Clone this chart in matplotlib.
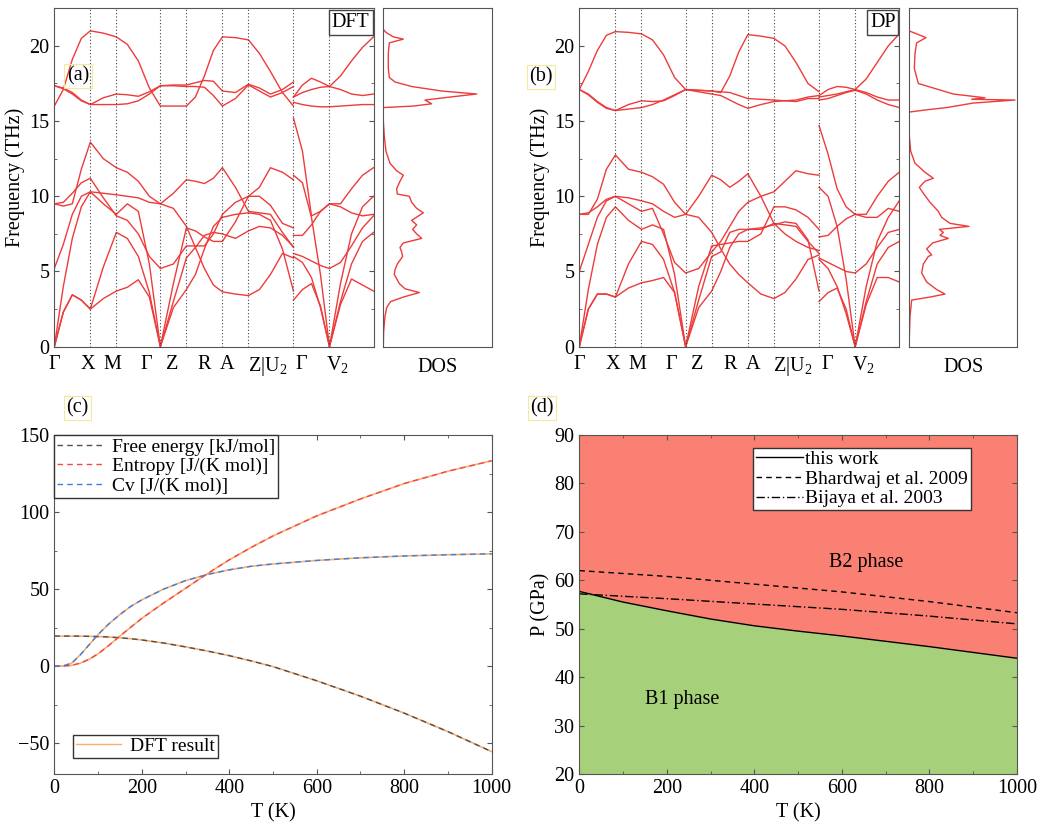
import numpy as np
import matplotlib
matplotlib.use('Agg')
import matplotlib.pyplot as plt
from matplotlib.ticker import MultipleLocator
from matplotlib.lines import Line2D

plt.rcParams['font.family'] = ['Liberation Serif', 'DejaVu Serif']
plt.rcParams['mathtext.fontset'] = 'custom'
plt.rcParams['mathtext.rm'] = 'Liberation Serif'
plt.rcParams['font.size'] = 14.5
plt.rcParams['axes.edgecolor'] = '#555555'
plt.rcParams['xtick.color'] = '#555555'
plt.rcParams['ytick.color'] = '#555555'
plt.rcParams['xtick.labelcolor'] = 'black'
plt.rcParams['ytick.labelcolor'] = 'black'

BAND = '#EE3B3B'

# ---- k-path (path length units) ----
k_seg1 = [0, 9, 18, 27, 36, 49, 62, 73, 84, 95, 106, 119, 132, 141, 150, 159, 168, 181, 194, 205, 216, 228, 239]
k_seg2 = [239, 248, 257, 266, 275, 286, 297, 308, 319]
k_special = [36, 62, 106, 132, 168, 194, 239, 275]
k_labels = ['Γ', 'X', 'M', 'Γ', 'Z', 'R', 'A', r'Z|U$_2$', 'Γ', r'V$_2$']
k_label_pos = [0, 33, 58, 92, 118, 150, 173, 213, 247, 283]

# ---- DFT bands (THz) ----
dft_seg1 = [
    [16.0, 17.1, 19.1, 20.5, 21.0, 20.85, 20.6, 20.1, 19.0, 17.2, 16.0, 16.0, 16.0, 16.6, 18.0, 19.7, 20.6, 20.55, 20.4, 19.5, 18.3, 16.9, 16.0],
    [17.35, 17.2, 16.9, 16.4, 16.1, 16.55, 16.8, 16.75, 16.65, 16.95, 17.35, 17.4, 17.4, 17.55, 17.7, 17.65, 17.0, 16.9, 17.45, 17.2, 16.8, 17.1, 17.6],
    [17.35, 17.15, 16.8, 16.35, 16.1, 16.1, 16.1, 16.15, 16.35, 16.8, 17.35, 17.35, 17.3, 17.3, 17.25, 16.7, 16.0, 16.5, 17.4, 17.0, 16.6, 16.9, 17.3],
    [0, 2.3, 3.45, 3.1, 2.5, 3.2, 3.7, 3.95, 4.45, 3.3, 0, 2.6, 3.8, 4.8, 6.5, 8.0, 8.6, 8.8, 8.9, 8.8, 8.4, 6.5, 3.7],
    [0, 2.3, 3.45, 3.1, 2.5, 5.3, 7.6, 7.2, 6.0, 3.6, 0, 3.0, 5.9, 6.6, 7.4, 7.6, 7.5, 7.2, 7.7, 8.0, 7.9, 7.4, 6.65],
    [0, 4.0, 7.2, 9.3, 10.3, 9.5, 8.8, 9.5, 9.0, 5.5, 0, 4.2, 7.9, 7.7, 7.3, 7.0, 7.0, 8.3, 10.0, 10.0, 9.4, 8.2, 7.9],
    [5.2, 6.8, 8.8, 10.0, 10.3, 10.2, 10.1, 10.0, 9.9, 9.6, 9.5, 10.2, 11.1, 11.0, 10.85, 11.2, 11.9, 10.6, 9.0, 8.9, 8.8, 7.6, 6.6],
    [9.5, 9.6, 10.2, 10.9, 11.2, 9.9, 8.7, 8.4, 7.5, 6.0, 5.2, 5.5, 6.7, 6.7, 6.7, 7.5, 8.8, 9.6, 10.0, 10.6, 11.9, 11.6, 11.1],
    [9.5, 9.35, 9.5, 11.8, 13.6, 12.5, 11.9, 11.6, 11.0, 10.0, 9.5, 9.2, 8.0, 6.6, 5.2, 4.1, 3.65, 3.5, 3.4, 3.8, 4.8, 6.2, 5.9],
]
dft_seg2 = [
    [16.6, 17.4, 17.85, 17.6, 17.3, 18.0, 19.0, 19.9, 20.6],
    [16.6, 16.9, 17.1, 17.25, 17.3, 17.1, 16.8, 16.7, 16.8],
    [16.25, 16.1, 16.0, 15.95, 15.95, 16.0, 16.05, 16.1, 16.1],
    [15.2, 13.0, 8.7, 9.0, 9.5, 9.5, 10.5, 11.4, 11.9],
    [11.4, 10.9, 8.6, 4.8, 0, 4.2, 7.5, 9.3, 10.0],
    [7.4, 7.4, 8.1, 9.0, 9.5, 9.3, 8.9, 8.7, 8.8],
    [6.2, 6.0, 5.7, 5.4, 5.2, 5.6, 6.7, 7.9, 8.7],
    [6.0, 5.6, 4.6, 2.6, 0, 3.0, 5.5, 7.0, 7.6],
    [3.1, 3.8, 4.2, 2.7, 0, 2.8, 4.5, 4.1, 3.7],
]

# ---- DP bands (THz) ----
dp_seg1 = [
    [17.1, 18.3, 19.7, 20.7, 20.95, 20.9, 20.8, 20.4, 19.4, 17.9, 17.1, 17.05, 17.0, 16.9, 18.0, 19.6, 20.75, 20.65, 20.5, 20.0, 18.9, 17.5, 16.95],
    [17.1, 16.8, 16.3, 15.9, 15.7, 16.1, 16.35, 16.3, 16.35, 16.7, 17.1, 17.05, 17.0, 16.95, 16.9, 16.7, 16.5, 16.45, 16.4, 16.35, 16.4, 16.6, 16.7],
    [17.1, 16.75, 16.25, 15.85, 15.7, 15.8, 15.9, 16.1, 16.4, 16.75, 17.1, 16.95, 16.8, 16.7, 16.4, 16.1, 15.85, 16.1, 16.3, 16.35, 16.3, 16.5, 16.5],
    [0, 2.5, 3.5, 3.5, 3.3, 3.9, 4.25, 4.4, 4.6, 3.6, 0, 2.6, 3.7, 5.0, 6.6, 7.5, 7.8, 7.9, 8.1, 8.3, 8.2, 7.1, 3.7],
    [0, 2.5, 3.5, 3.5, 3.3, 5.5, 7.0, 6.8, 5.8, 3.6, 0, 3.1, 6.0, 6.3, 7.6, 7.8, 7.8, 7.8, 8.2, 8.1, 8.0, 7.0, 6.2],
    [0, 3.8, 6.8, 8.6, 9.3, 8.4, 7.8, 8.1, 7.8, 4.8, 0, 4.0, 6.7, 6.8, 6.9, 7.0, 7.0, 7.5, 9.3, 9.3, 9.1, 8.6, 7.8],
    [5.0, 6.8, 8.6, 9.7, 10.0, 9.9, 9.7, 9.5, 9.0, 8.6, 8.8, 10.0, 11.4, 11.1, 10.6, 11.0, 11.5, 10.0, 8.2, 7.5, 7.0, 6.6, 6.4],
    [8.8, 8.9, 9.3, 9.8, 10.0, 9.5, 9.0, 9.2, 7.5, 5.6, 4.9, 5.2, 6.3, 7.0, 8.0, 9.0, 9.6, 10.0, 10.3, 11.0, 11.7, 11.5, 11.4],
    [8.8, 8.8, 9.8, 11.8, 12.75, 11.8, 11.6, 11.3, 10.8, 9.6, 8.8, 8.6, 7.6, 6.5, 5.5, 4.8, 4.25, 3.5, 3.2, 3.6, 4.5, 5.8, 6.1],
]
dp_seg2 = [
    [16.7, 17.1, 17.3, 17.25, 17.1, 17.8, 18.9, 20.0, 20.8],
    [16.6, 16.7, 16.8, 16.95, 17.1, 16.9, 16.6, 16.4, 16.4],
    [16.4, 16.5, 16.7, 16.9, 17.05, 16.8, 16.4, 16.1, 15.9],
    [14.7, 12.8, 10.5, 9.3, 8.8, 8.8, 10.0, 11.0, 11.6],
    [10.6, 10.0, 8.0, 4.5, 0, 4.0, 7.0, 8.6, 9.7],
    [7.3, 7.4, 8.0, 8.5, 8.8, 8.6, 8.6, 9.2, 9.0],
    [5.9, 5.6, 5.3, 5.0, 4.9, 5.5, 6.6, 7.6, 7.8],
    [5.8, 5.2, 4.0, 2.2, 0, 3.0, 5.5, 6.6, 7.0],
    [3.0, 3.6, 3.9, 2.5, 0, 2.8, 4.6, 4.6, 4.3],
]

# ---- DOS (arbitrary units) ----
dos_dft_freq = [0, 1.0, 2.0, 2.6, 3.0, 3.3, 3.6, 3.85, 4.2, 4.8, 5.1, 5.5, 6.0, 6.3, 6.6, 6.9, 7.2, 7.5, 7.8, 8.1,
                8.4, 8.9, 9.2, 9.6, 10.0, 10.15, 10.5, 11.0, 11.4, 11.7, 12.2, 13.0, 14.0, 15.0, 15.9, 16.0, 16.15,
                16.4, 16.6, 16.8, 17.0, 17.3, 17.6, 17.9, 18.5, 19.5, 20.2, 20.45, 20.6, 20.9, 21.1, 22.5]
dos_dft = [0, 1, 5, 10, 22, 60, 108, 65, 48, 33, 35, 42, 58, 55, 50, 60, 115, 100, 88, 100,
           85, 120, 100, 85, 78, 42, 40, 50, 60, 40, 20, 8, 3, 0, 0, 90, 145,
           125, 200, 280, 175, 85, 35, 18, 15, 15, 18, 60, 30, 8, 0, 0]
dos_dp_freq = [0, 2.0, 3.1, 3.3, 3.5, 3.8, 4.3, 4.9, 5.5, 6.0, 6.1, 6.5, 6.9, 7.2, 7.4, 7.6, 7.8, 8.0, 8.2, 8.6,
               9.0, 9.6, 10.2, 10.6, 11.0, 11.2, 11.6, 12.2, 13.0, 14.0, 15.0, 15.6, 15.75, 15.9, 16.2, 16.4,
               16.45, 16.55, 16.8, 17.1, 17.5, 18.5, 19.5, 20.2, 20.55, 20.8, 21.0, 22.5]
dos_dp = [0, 3, 8, 63, 108, 83, 53, 38, 43, 58, 68, 53, 71, 118, 93, 103, 91, 180, 123, 98,
          88, 63, 43, 31, 48, 73, 48, 18, 5, 1, 0, 0, 53, 113, 193, 318,
          188, 228, 133, 88, 28, 16, 18, 23, 51, 23, 0, 0]

# ---- thermodynamics ----
T_thermo = [0, 20, 40, 60, 80, 100, 125, 150, 175, 200, 250, 300, 350, 400, 450, 500, 600, 700, 800, 900, 1000]
free_energy = [19.5, 19.5, 19.5, 19.45, 19.35, 19.2, 18.9, 18.4, 17.8, 17.0, 15.0, 12.5, 9.8, 6.8, 3.4, -0.3,
               -9.5, -19.5, -30.5, -42.5, -55.5]
entropy = [0, 0.05, 0.5, 2.0, 4.5, 8.0, 13.5, 19.5, 25.3, 31.0, 41.0, 50.5, 60.0, 69.0, 77.0, 84.5,
           97.5, 108.5, 118.5, 126.5, 133.3]
heat_cap = [0, 0.1, 2.0, 7.5, 14.0, 20.5, 27.5, 33.5, 38.8, 43.0, 50.0, 55.5, 59.5, 62.5, 64.8, 66.3,
            68.6, 70.3, 71.5, 72.3, 72.9]

# ---- phase boundary ----
T_phase = [0, 100, 200, 300, 400, 500, 600, 700, 800, 900, 1000]
p_this_work = [57.7, 55.5, 53.7, 52.0, 50.6, 49.5, 48.5, 47.4, 46.3, 45.1, 43.9]
T_ref = [0, 200, 400, 600, 800, 1000]
p_bhardwaj = [62.0, 60.8, 59.2, 57.6, 55.6, 53.3]
p_bijaya = [57.2, 56.2, 55.1, 54.0, 52.6, 51.0]

W, H = 1038, 830
fig = plt.figure(figsize=(W / 100, H / 100), dpi=100)


def box(l, t, r, b):
    return [l / W, 1 - b / H, (r - l) / W, (b - t) / H]


def draw_bands(ax, seg1, seg2, tag):
    for band in seg1:
        ax.plot(k_seg1, band, color=BAND, lw=1.0)
    for band in seg2:
        ax.plot(k_seg2, band, color=BAND, lw=1.0)
    for k in k_special:
        ax.axvline(k, color='#444444', ls=(0, (1, 2)), lw=0.8)
    ax.set_xlim(0, 319)
    ax.set_ylim(0, 22.5)
    ax.set_xticks(k_label_pos)
    ax.set_xticklabels(k_labels)
    ax.tick_params(axis='x', length=0, pad=6)
    ax.set_yticks([0, 5, 10, 15, 20])
    ax.yaxis.set_minor_locator(MultipleLocator(2.5))
    ax.tick_params(axis='y', which='both', direction='in', right=True)
    ax.set_ylabel('Frequency (THz)', labelpad=3)
    ax.text(0.988, 0.985, tag, transform=ax.transAxes, ha='right', va='top',
            bbox=dict(boxstyle='square,pad=0.15', fc='white', ec='#444444', lw=1.0))


def draw_dos(ax, freq, dos):
    ax.plot(dos, freq, color=BAND, lw=1.0)
    ax.set_xlim(0, 325)
    ax.set_ylim(0, 22.5)
    ax.set_xticks([])
    ax.set_yticks([])
    ax.set_xlabel('DOS', labelpad=8)


ax_a = fig.add_axes(box(54.3, 8.3, 373.5, 346.7))
draw_bands(ax_a, dft_seg1, dft_seg2, 'DFT')
ax_ad = fig.add_axes(box(383.3, 8.3, 491.7, 346.7))
draw_dos(ax_ad, dos_dft_freq, dos_dft)

ax_b = fig.add_axes(box(579.3, 8.3, 899.3, 346.7))
draw_bands(ax_b, dp_seg1, dp_seg2, 'DP')
ax_bd = fig.add_axes(box(909, 8.3, 1017.3, 346.7))
draw_dos(ax_bd, dos_dp_freq, dos_dp)

# ---- (c) thermodynamic properties ----
ax_c = fig.add_axes(box(54.3, 435, 491.7, 774))
orange = '#F7AE72'
for ys in (free_energy, entropy, heat_cap):
    ax_c.plot(T_thermo, ys, color=orange, lw=1.2)
ax_c.plot(T_thermo, free_energy, color='#505050', ls=(0, (4, 3)), lw=1.0)
ax_c.plot(T_thermo, entropy, color='#F04848', ls=(0, (4, 3)), lw=1.0)
ax_c.plot(T_thermo, heat_cap, color='#3C7FE0', ls=(0, (4, 3)), lw=1.0)
ax_c.set_xlim(0, 1000)
ax_c.set_ylim(-70, 150)
ax_c.set_xticks([0, 200, 400, 600, 800, 1000])
ax_c.set_yticks([-50, 0, 50, 100, 150])
ax_c.xaxis.set_minor_locator(MultipleLocator(100))
ax_c.yaxis.set_minor_locator(MultipleLocator(25))
ax_c.tick_params(which='both', direction='in', top=True, right=True)
ax_c.set_xlabel('T (K)')
h1 = [Line2D([], [], color='#505050', ls=(0, (4, 3)), lw=1.0),
      Line2D([], [], color='#F04848', ls=(0, (4, 3)), lw=1.0),
      Line2D([], [], color='#3C7FE0', ls=(0, (4, 3)), lw=1.0)]
leg1 = ax_c.legend(h1, ['Free energy [kJ/mol]', 'Entropy [J/(K mol)]', 'Cv [J/(K mol)]'],
                   loc='upper left', borderaxespad=0, fancybox=False, edgecolor='#333333',
                   framealpha=1, fontsize=14, handlelength=2.3, labelspacing=0.1,
                   borderpad=0.15, handletextpad=0.5)
ax_c.add_artist(leg1)
ax_c.legend([Line2D([], [], color=orange, lw=1.0)], ['DFT result'], loc='lower left',
            bbox_to_anchor=(0.043, 0.047), borderaxespad=0, fancybox=False, edgecolor='#333333',
            framealpha=1, fontsize=14, handlelength=2.3, borderpad=0.15, handletextpad=0.5)

# ---- (d) phase diagram ----
ax_d = fig.add_axes(box(579.3, 435, 1017, 774))
ax_d.fill_between(T_phase, 20, p_this_work, color='#A6D07A', lw=0)
ax_d.fill_between(T_phase, p_this_work, 90, color='#F98072', lw=0)
ax_d.plot(T_phase, p_this_work, color='black', lw=1.0, label='this work')
ax_d.plot(T_ref, p_bhardwaj, color='black', ls=(0, (4, 3)), lw=1.0, label='Bhardwaj et al. 2009')
ax_d.plot(T_ref, p_bijaya, color='black', ls=(0, (6, 2, 1, 2)), lw=1.0, label='Bijaya et al. 2003')
ax_d.set_xlim(0, 1000)
ax_d.set_ylim(20, 90)
ax_d.set_xticks([0, 200, 400, 600, 800, 1000])
ax_d.xaxis.set_minor_locator(MultipleLocator(100))
ax_d.set_yticks(range(20, 91, 10))
ax_d.tick_params(which='both', direction='in', top=True, right=True)
ax_d.set_xlabel('T (K)')
ax_d.set_ylabel('P (GPa)', labelpad=3)
ax_d.text(655, 63.6, 'B2 phase', ha='center', va='center')
ax_d.text(235, 35.3, 'B1 phase', ha='center', va='center')
ax_d.legend(loc='upper right', bbox_to_anchor=(0.894, 0.9625), borderaxespad=0, fancybox=False,
            edgecolor='#333333', framealpha=1, fontsize=14, handlelength=2.4,
            labelspacing=0.1, borderpad=0.15, handletextpad=0.1)

# ---- panel tags ----
tag_box = dict(boxstyle='square,pad=0.12', fill=False, ec='#F2EC9A', lw=0.8)
for x, y, s in [(78, 76, '(a)'), (541, 77, '(b)'), (77.5, 408, '(c)'), (542, 408, '(d)')]:
    fig.text(x / W, 1 - y / H, s, ha='center', va='center', fontsize=14.5, bbox=tag_box)

fig.savefig('out.png', dpi=100)
